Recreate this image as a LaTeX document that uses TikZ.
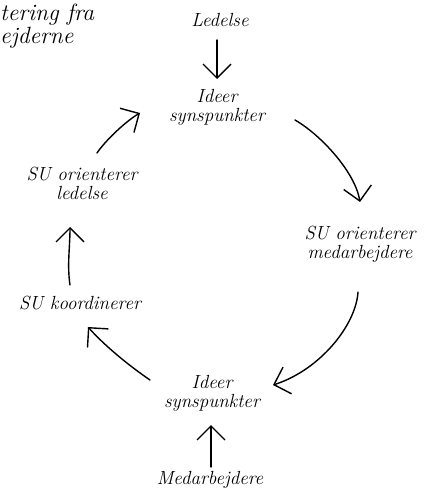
\documentclass[tikz,border=0pt]{standalone}
\usetikzlibrary{arrows.meta,calc}
\begin{document}
\begin{tikzpicture}[x=1pt,y=-1pt,
  lbl/.style={inner sep=0pt,align=center,font=\fontsize{19}{19}\selectfont\itshape},
  arr/.style={line width=1.4pt,line cap=round,-{Straight Barb[length=14pt,width=28pt,line width=1.4pt]}}]
\useasboundingbox (0,0) rectangle (432,494);
\node[inner sep=0pt,align=left,anchor=north west,font=\fontsize{23.5}{23}\selectfont\itshape] (top) at (0,4) {tering fra\\ejderne};
\node[lbl] (led) at (220,20) {Ledelse};
\node[lbl] (ide1) at (217,107) {Ideer\\synspunkter};
\node[lbl] (som) at (360,244) {SU orienterer\\medarbejdere};
\node[lbl] (ide2) at (212,393) {Ideer\\synspunkter};
\node[lbl] (med) at (210,480) {Medarbejdere};
\node[lbl] (sko) at (80,303) {SU koordinerer};
\node[lbl] (sol) at (82,183) {SU orienterer\\ledelse};
% connectors
\draw[arr] ($(led)+(-3,20)$) -- ($(ide1)+(0,-28)$);
\draw[arr] ($(ide1)+(78,13)$) .. controls +(26,15) and +(-5,-30) .. ($(som)+(0,-42)$);
\draw[arr] ($(som)+(-2,48)$) .. controls +(-2,33) and +(47,-15) .. ($(ide2)+(61,-8)$);
\draw[arr] ($(ide2)+(-62,-13)$) .. controls +(-22,-15) and +(16,18) .. ($(sko)+(8,24)$);
\draw[arr] ($(sko)+(-10,-18)$) .. controls +(-3,-20) and +(0,20) .. ($(sol)+(-12,44)$);
\draw[arr] ($(sol)+(15,-30)$) .. controls +(8,-12) and +(-14,8) .. ($(ide1)+(-77,6)$);
\draw[arr] ($(med)+(1,-13)$) -- ($(ide2)+(-1,32)$);
\end{tikzpicture}
\end{document}
